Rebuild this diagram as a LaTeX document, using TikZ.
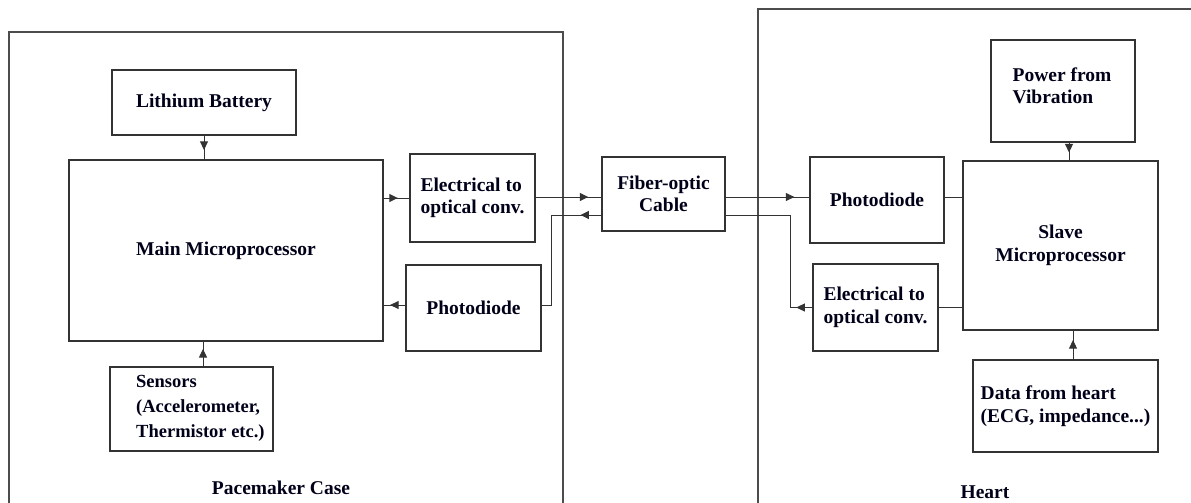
\documentclass[tikz,border=0pt]{standalone}
\usepackage{fontspec}
\setmainfont{Liberation Serif}
\usetikzlibrary{arrows.meta,decorations.markings}
\newcommand{\tf}{\fontsize{19.5}{22.5}\selectfont\bfseries}
\newcommand{\tfs}{\fontsize{18.5}{25}\selectfont\bfseries}
\tikzset{
  box/.style={draw=black!80, line width=1.1pt, align=left, inner sep=0pt, font=\tf, text=black!90!blue},
  frame/.style={draw=black!70, line width=1.1pt},
  conn/.style={draw=black!80, line width=0.9pt},
  lbl/.style={font=\tf, inner sep=0pt, text=black!90!blue},
  midarrow/.style={postaction={decorate}, decoration={markings, mark=at position #1 with {\arrow{Triangle[length=8.5pt,width=8pt]}}}}
}
\begin{document}
\begin{tikzpicture}[x=1pt,y=-1pt]
\useasboundingbox (0,0) rectangle (1191,503);
% containers
\draw[frame] (9,503) -- (9,32) -- (563,32) -- (563,503);
\draw[frame] (758,503) -- (758,9) -- (1191,9);
% boxes
\node[box, minimum width=184pt, minimum height=65pt] (bat) at (204,102.5) {Lithium Battery};
\node[box, minimum width=314pt, minimum height=181pt] (main) at (226,250.5) {Main Microprocessor};
\node[box, minimum width=125pt, minimum height=88pt] (eo1) at (472.5,198) {Electrical to\\optical conv.};
\node[box, minimum width=135pt, minimum height=86pt] (pd1) at (473.5,308) {Photodiode};
\node[box, minimum width=163pt, minimum height=84pt] (sens) at (191.5,409) {};
\node[lbl, font=\tfs, align=left, anchor=west] (senstxt) at (136,408) {Sensors\\(Accelerometer,\\Thermistor etc.)};
\node[box, minimum width=123pt, minimum height=74pt, align=center] (fib) at (663.5,194) {Fiber-optic\\Cable};
\node[box, minimum width=134pt, minimum height=86pt] (pd2) at (877,200) {Photodiode};
\node[box, minimum width=125pt, minimum height=87pt] (eo2) at (875.5,307.5) {Electrical to\\optical conv.};
\node[box, minimum width=195pt, minimum height=169pt, align=center] (slave) at (1060.5,245.5) {Slave\\Microprocessor};
\node[box, minimum width=144pt, minimum height=102pt] (pow) at (1063,91) {};
\node[lbl, align=left] (powtxt) at (1062,86) {Power from\\Vibration};
\node[box, minimum width=185pt, minimum height=92pt] (data) at (1065.5,406) {Data from heart\\(ECG, impedance...)};
% labels
\node[lbl] (caselbl) at (281,488) {Pacemaker Case};
\node[lbl] (heartlbl) at (985,492) {Heart};
% bend points
\coordinate (bendL) at (551,215);
\coordinate (bendR) at (790,215);
% connectors
\draw[conn, midarrow=0.6] (bat.south) -- (bat.south |- main.north);
\draw[conn, midarrow=0.7] ([xshift=11.5pt]sens.north) -- ([xshift=11.5pt]sens.north |- main.south);
\draw[conn, midarrow=0.55] (main.east |- eo1.west) -- (eo1.west);
\draw[conn, midarrow=0.7] ([yshift=3pt]pd1.west) -- ([yshift=3pt]pd1.west -| main.east);
\draw[conn, midarrow=0.8] ([yshift=1pt]eo1.east) -- ([yshift=1pt]eo1.east -| fib.west);
\draw[conn, midarrow=0.14] (bendL -| fib.west) -- (bendL) |- ([yshift=3pt]pd1.east);
\draw[conn, midarrow=0.82] ([yshift=-3pt]fib.east) -- ([yshift=-3pt]fib.east -| pd2.west);
\draw[conn, midarrow=0.09] (eo2.west) -| (bendR) -- (bendR -| fib.east);
\draw[conn] ([yshift=3pt]pd2.east) -- ([yshift=3pt]pd2.east -| slave.west);
\draw[conn] (eo2.east) -- (eo2.east -| slave.west);
\draw[conn, midarrow=0.55] ([xshift=6pt]pow.south) -- ([xshift=6pt]pow.south |- slave.north);
\draw[conn, midarrow=0.67] ([xshift=7.5pt]data.north) -- ([xshift=7.5pt]data.north |- slave.south);
\end{tikzpicture}
\end{document}
